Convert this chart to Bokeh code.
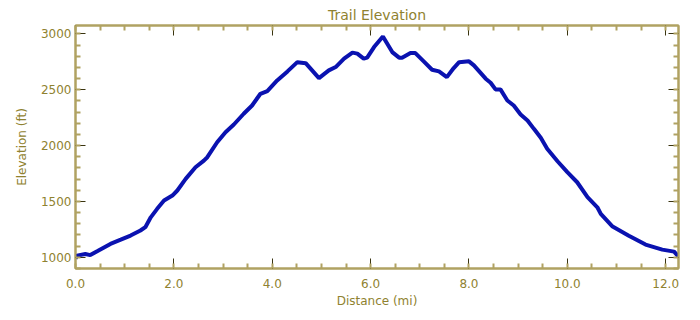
from bokeh.plotting import figure
from bokeh.models import LinearAxis, FixedTicker, Range1d
from bokeh.embed import file_html
from bokeh.resources import INLINE

distance_mi = [0.00, 0.03, 0.20, 0.30, 0.44, 0.71, 0.92, 1.12, 1.32, 1.42, 1.53, 1.66, 1.80, 1.97,
               2.07, 2.24, 2.44, 2.61, 2.68, 2.88, 3.05, 3.22, 3.42, 3.59, 3.76, 3.90, 4.10, 4.31,
               4.51, 4.68, 4.95, 5.15, 5.29, 5.46, 5.63, 5.73, 5.86, 5.93, 6.07, 6.25, 6.44, 6.58,
               6.64, 6.81, 6.91, 7.08, 7.25, 7.39, 7.55, 7.69, 7.80, 8.00, 8.10, 8.34, 8.44, 8.54,
               8.64, 8.78, 8.91, 9.05, 9.19, 9.32, 9.46, 9.59, 9.80, 10.00, 10.20, 10.41, 10.61,
               10.68, 10.92, 11.25, 11.59, 11.93, 12.17, 12.26]
elevation_ft = [990, 1015, 1030, 1020, 1054, 1120, 1158, 1195, 1240, 1270, 1358, 1434, 1508, 1553,
                1598, 1702, 1806, 1866, 1896, 2030, 2120, 2189, 2285, 2359, 2464, 2488, 2583, 2664,
                2747, 2738, 2604, 2673, 2703, 2778, 2832, 2823, 2778, 2787, 2882, 2977, 2837, 2787,
                2787, 2828, 2828, 2754, 2679, 2664, 2613, 2694, 2747, 2754, 2718, 2599, 2563, 2503,
                2503, 2404, 2359, 2279, 2225, 2150, 2070, 1971, 1860, 1762, 1672, 1538, 1448,
                1389, 1275, 1194, 1114, 1069, 1051, 1006]

x_major = [0, 2, 4, 6, 8, 10, 12]
x_minor = [i * 0.5 for i in range(0, 25)]
x_labels = {0: "0.0", 2: "2.0", 4: "4.0", 6: "6.0", 8: "8.0", 10: "10.0", 12: "12.0"}
y_major = [1000, 1500, 2000, 2500, 3000]
y_minor = list(range(900, 3001, 100))

AX = "#b0a262"
TXT = "#8f8230"
FONT = "DejaVu Sans"

W, H = 700, 320
L, T, R, B = 75, 25, 678, 268
p = figure(width=W, height=H, output_backend="svg", toolbar_location=None,
           x_range=Range1d(0, 12.26), y_range=Range1d(900, 3075),
           min_border_left=L, min_border_right=W - R,
           min_border_top=T, min_border_bottom=H - B)
p.title.text = "Trail Elevation"
p.title.align = "center"
p.title.text_font = FONT
p.title.text_font_size = "14px"
p.title.text_font_style = "normal"
p.title.text_color = TXT
p.title.standoff = 5

p.xgrid.visible = False
p.ygrid.visible = False
p.outline_line_color = AX
p.outline_line_width = 2
p.background_fill_color = "white"
p.border_fill_color = "white"

p.line(distance_mi, elevation_ft, line_color="#0a12b0", line_width=4)


def style(ax):
    ax.axis_line_color = AX
    ax.axis_line_width = 2
    ax.major_tick_line_color = "#3a3410"
    ax.minor_tick_line_color = AX
    ax.major_tick_in = 10
    ax.major_tick_out = 0
    ax.minor_tick_in = 5
    ax.minor_tick_out = 0
    ax.major_tick_line_width = 1
    ax.minor_tick_line_width = 2
    ax.major_label_text_font = FONT
    ax.major_label_text_color = TXT
    ax.major_label_text_font_size = "12px"
    ax.axis_label_text_font = FONT
    ax.axis_label_text_font_size = "12px"
    ax.axis_label_text_font_style = "normal"
    ax.axis_label_text_color = TXT


xa = p.xaxis[0]
xa.ticker = FixedTicker(ticks=x_major, minor_ticks=x_minor)
xa.major_label_overrides = x_labels
xa.axis_label = "Distance (mi)"
xa.major_label_standoff = 10
xa.axis_label_standoff = 3
style(xa)

ya = p.yaxis[0]
ya.ticker = FixedTicker(ticks=y_major, minor_ticks=y_minor)
ya.axis_label = "Elevation (ft)"
ya.major_label_standoff = 4
ya.axis_label_standoff = 9
style(ya)

top = LinearAxis(ticker=FixedTicker(ticks=x_major, minor_ticks=x_minor))
style(top)
top.major_label_overrides = {t: "" for t in x_major}
top.major_label_standoff = 0
p.add_layout(top, "above")

right = LinearAxis(ticker=FixedTicker(ticks=y_major, minor_ticks=y_minor))
style(right)
right.major_label_overrides = {t: "" for t in y_major}
right.major_label_standoff = 0
p.add_layout(right, "right")

open("out.html", "w").write(file_html(p, INLINE))
